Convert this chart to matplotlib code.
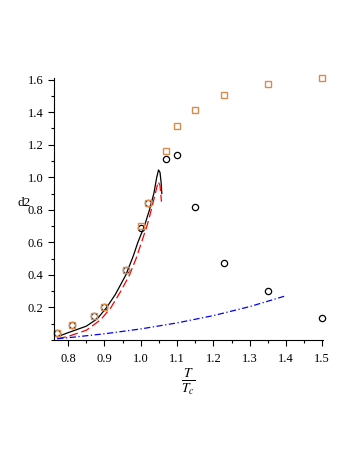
import matplotlib
matplotlib.use("Agg")
from matplotlib import pyplot as plt
from matplotlib.ticker import MultipleLocator, FixedLocator
import numpy as np

plt.rcParams['font.family'] = ['Liberation Serif', 'DejaVu Serif']
plt.rcParams['mathtext.fontset'] = 'stix'

# measured points
t_sq = [0.77, 0.81, 0.87, 0.90, 0.96, 1.00, 1.02, 1.07, 1.10, 1.15, 1.23, 1.35, 1.50]
d2_sq = [0.045, 0.09, 0.149, 0.204, 0.43, 0.70, 0.843, 1.164, 1.314, 1.416, 1.506, 1.573, 1.61]

t_circ = [0.77, 0.81, 0.87, 0.90, 0.96, 1.00, 1.02, 1.07, 1.10, 1.15, 1.23, 1.35, 1.50]
d2_circ = [0.045, 0.09, 0.149, 0.204, 0.43, 0.69, 0.843, 1.115, 1.136, 0.815, 0.475, 0.303, 0.135]

# model curves
t_black = [0.770, 0.80, 0.85, 0.88, 0.906, 0.93, 0.959, 0.98, 0.992, 1.01, 1.024,
           1.036, 1.044, 1.049, 1.053, 1.056, 1.058]
d2_black = [0.020, 0.045, 0.085, 0.13, 0.20, 0.28, 0.40, 0.52, 0.60, 0.70, 0.80,
            0.90, 1.00, 1.045, 1.03, 0.97, 0.90]

t_red = [0.770, 0.80, 0.85, 0.89, 0.918, 0.945, 0.969, 0.987, 1.002, 1.017, 1.029,
         1.040, 1.048, 1.053, 1.057]
d2_red = [0.008, 0.022, 0.060, 0.125, 0.20, 0.30, 0.40, 0.50, 0.60, 0.70, 0.80,
          0.90, 0.972, 0.95, 0.85]

t_blue = [0.77, 0.80, 0.90, 1.00, 1.10, 1.20, 1.30, 1.40]
d2_blue = [0.008, 0.014, 0.038, 0.068, 0.105, 0.150, 0.205, 0.272]

y_ticks = [0.2, 0.4, 0.6, 0.8, 1.0, 1.2, 1.4, 1.6]
x_ticks = [0.8, 0.9, 1.0, 1.1, 1.2, 1.3, 1.4, 1.5]

fig = plt.figure(figsize=(3.54, 4.58), dpi=100)
ax = fig.add_axes([54 / 354, 118 / 458, 269 / 354, 262 / 458])

ax.plot(t_black, d2_black, color='black', lw=0.9)
ax.plot(t_red, d2_red, color='red', lw=0.9, dashes=(7, 3))
ax.plot(t_blue, d2_blue, color='blue', lw=0.9, dashes=(5, 2, 1, 2))
ax.plot(t_circ, d2_circ, 'o', ms=4.5, mfc='none', mec='black', mew=0.9, clip_on=False)
ax.plot(t_sq, d2_sq, 's', ms=5, mfc='none', mec='#d98c4a', mew=1.0, clip_on=False)

ax.set_xlim(0.761, 1.502)
ax.set_ylim(0.0, 1.61)
ax.spines['top'].set_visible(False)
ax.spines['right'].set_visible(False)

ax.xaxis.set_major_locator(FixedLocator(x_ticks))
ax.xaxis.set_minor_locator(MultipleLocator(0.05))
ax.yaxis.set_major_locator(FixedLocator(y_ticks))
ax.yaxis.set_minor_locator(MultipleLocator(0.1))
ax.set_xticklabels(['%.1f' % v for v in x_ticks])
ax.set_yticklabels(['%.1f' % v for v in y_ticks])
ax.tick_params(which='major', length=4, width=0.8, labelsize=9, direction='out')
ax.tick_params(axis='x', which='major', pad=5)
ax.tick_params(which='minor', length=2.5, width=0.8, direction='out')

ax.set_ylabel('d2', rotation=0, fontsize=9.5)
ax.yaxis.set_label_coords(-0.11, 0.5)
ax.set_xlabel(r'$\frac{T}{T_c}$', fontsize=14, labelpad=2)

fig.savefig('out.png', dpi=100)
